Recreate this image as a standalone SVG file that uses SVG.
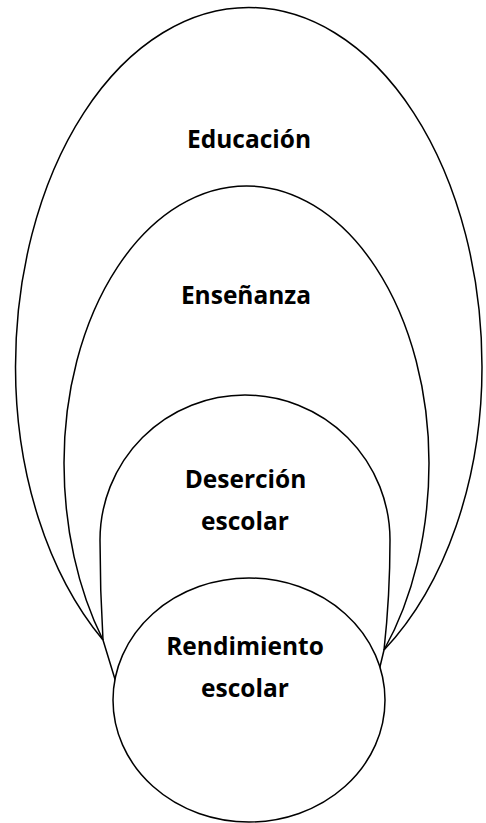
<svg xmlns="http://www.w3.org/2000/svg" width="486" height="823" viewBox="0 0 486 823">
<style>
.shape{fill:none;stroke:#000;stroke-width:1.5}
.circ{fill:#fff;stroke:#000;stroke-width:1.5}
.lbl{font-family:"Open Sans","Liberation Sans",sans-serif;font-weight:bold;font-size:24.5px;fill:#000;text-anchor:middle}
</style>
<rect width="486" height="823" fill="#fff"/>
<g id="connectors">
<path class="shape" d="M103,640 L125,712 M384,650 L372,700"/>
</g>
<g id="educacion">
<path class="shape" d="M103,640 A233.25,349.7 0 0 1 15.5,367 A233.25,359.5 0 0 1 248.75,7.5 A233.25,359.5 0 0 1 482,367 A233.25,347.4 0 0 1 384,650"/>
<text class="lbl" x="249" y="148">Educación</text>
</g>
<g id="ensenanza">
<path class="shape" d="M103,640 A182.5,286.5 0 0 1 64,463 A182.5,277 0 0 1 246.5,186 A182.5,277 0 0 1 429,463 A182.5,284.4 0 0 1 384,650"/>
<text class="lbl" x="246" y="304">Enseñanza</text>
</g>
<g id="desercion">
<path class="shape" d="M103,640 A145,494 0 0 1 100,540 A145,145 0 0 1 245,395 A145,145 0 0 1 390,540 A145,386 0 0 1 384,650"/>
<text class="lbl" x="245.5" y="488">Deserción</text>
<text class="lbl" x="245" y="530">escolar</text>
</g>
<g id="rendimiento">
<ellipse class="circ" cx="249" cy="700" rx="136" ry="122"/>
<text class="lbl" x="245" y="655">Rendimiento</text>
<text class="lbl" x="245" y="697">escolar</text>
</g>
</svg>
